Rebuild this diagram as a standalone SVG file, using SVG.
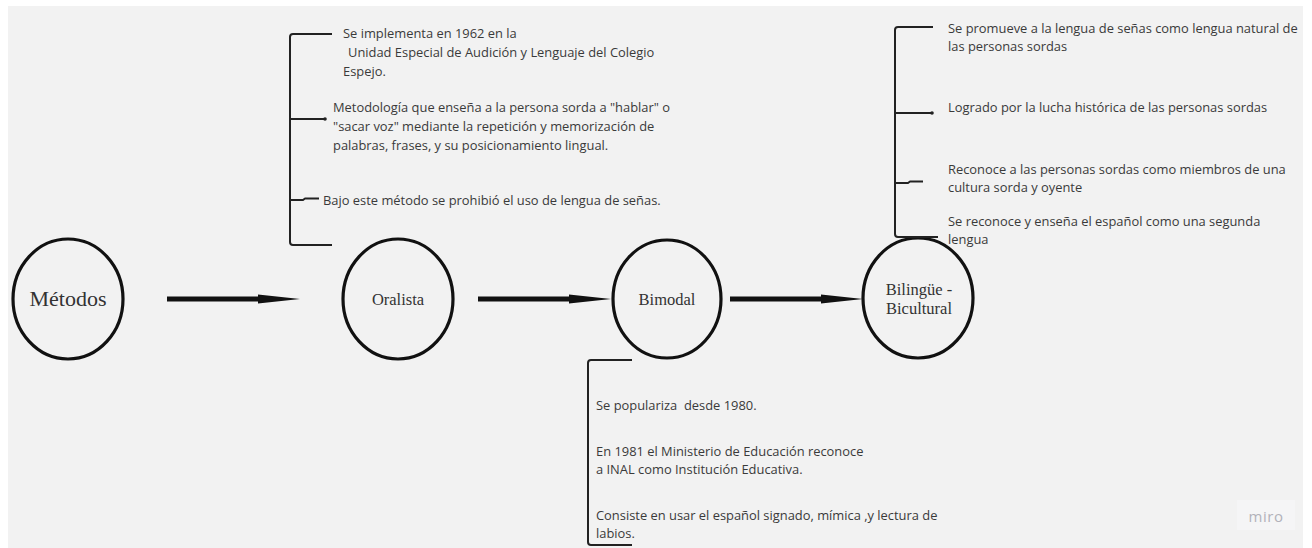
<svg xmlns="http://www.w3.org/2000/svg" width="1312" height="548" viewBox="0 0 1312 548">
<defs>
<style>
.bg{fill:#f2f2f2}
.node{fill:none;stroke:#111;stroke-width:3.2}
.lbl{font-family:"Liberation Serif",serif;fill:#333;text-anchor:middle}
.txt{font-family:"Open Sans","Noto Sans",sans-serif;font-size:12.9px;fill:#3a3a3a}
.br{fill:none;stroke:#222;stroke-width:2;stroke-linejoin:round}
.arr{stroke:#111;stroke-width:5;marker-end:url(#head)}
</style>
<marker id="head" markerUnits="userSpaceOnUse" markerWidth="46" markerHeight="14" refX="0" refY="7" orient="auto" viewBox="0 0 46 14">
<path d="M0,2.5 L42,7 L0,11.5 Z" fill="#111"/>
</marker>
</defs>
<rect x="0" y="0" width="1312" height="548" fill="#ffffff"/>
<rect class="bg" x="8" y="6" width="1295" height="542"/>

<g id="connectors">
<line class="arr" x1="167" y1="299" x2="258" y2="299"/>
<line class="arr" x1="478" y1="299" x2="569" y2="299"/>
<line class="arr" x1="730" y1="299" x2="821" y2="299"/>
</g>

<g id="metodos">
<ellipse class="node" cx="68" cy="299" rx="55" ry="60"/>
<text class="lbl" x="68" y="306" font-size="22">Métodos</text>
</g>

<g id="oralista">
<ellipse class="node" cx="398" cy="299" rx="55" ry="60"/>
<text class="lbl" x="398" y="305" font-size="16.5">Oralista</text>
</g>

<g id="bimodal">
<ellipse class="node" cx="667" cy="299" rx="54" ry="59"/>
<text class="lbl" x="667" y="305" font-size="16.5">Bimodal</text>
</g>

<g id="bilingue">
<ellipse class="node" cx="918" cy="298" rx="55" ry="60"/>
<text class="lbl" x="919" y="295" font-size="16.5">Bilingüe -</text>
<text class="lbl" x="919" y="314" font-size="16.5">Bicultural</text>
</g>

<g id="oralista-notes">
<path class="br" d="M332,34 H293 Q290,34 290,37 V242 Q290,245 293,245 H332"/>
<path class="br" d="M290,119 H325"/>
<circle cx="325" cy="119" r="1.8" fill="#222"/>
<path class="br" d="M290,200 H303 L305,198.5 H319"/>
<text class="txt" x="343" y="38">Se implementa en 1962 en la</text>
<text class="txt" x="348" y="57">Unidad Especial de Audición y Lenguaje del Colegio</text>
<text class="txt" x="343" y="76">Espejo.</text>
<text class="txt" x="333" y="112">Metodología que enseña a la persona sorda a "hablar" o</text>
<text class="txt" x="333" y="131">"sacar voz" mediante la repetición y memorización de</text>
<text class="txt" x="333" y="150">palabras, frases, y su posicionamiento lingual.</text>
<text class="txt" x="323" y="205">Bajo este método se prohibió el uso de lengua de señas.</text>
</g>

<g id="bimodal-notes">
<path class="br" d="M632,360 H591 Q588,360 588,363 V542 Q588,545 591,545 H632"/>
<text class="txt" x="596" y="410">Se populariza&#160; desde 1980.</text>
<text class="txt" x="596" y="456">En 1981 el Ministerio de Educación reconoce</text>
<text class="txt" x="596" y="474">a INAL como Institución Educativa.</text>
<text class="txt" x="596" y="520">Consiste en usar el español signado, mímica ,y lectura de</text>
<text class="txt" x="596" y="538">labios.</text>
</g>

<g id="bilingue-notes">
<path class="br" d="M933,27 H898 Q895,27 895,30 V234 Q895,237 898,237 H938"/>
<path class="br" d="M895,113 H932"/>
<circle cx="932" cy="113" r="1.8" fill="#222"/>
<path class="br" d="M895,183 H908 L910,181.5 H923"/>
<text class="txt" x="948" y="33">Se promueve a la lengua de señas como lengua natural de</text>
<text class="txt" x="948" y="51">las personas sordas</text>
<text class="txt" x="948" y="112">Logrado por la lucha histórica de las personas sordas</text>
<text class="txt" x="948" y="174">Reconoce a las personas sordas como miembros de una</text>
<text class="txt" x="948" y="192">cultura sorda y oyente</text>
<text class="txt" x="948" y="226">Se reconoce y enseña el español como una segunda</text>
<text class="txt" x="948" y="244">lengua</text>
</g>

<g id="miro">
<rect x="1237" y="500" width="58" height="30" fill="#f5f5f6"/>
<text x="1266" y="522" font-family="'Open Sans',sans-serif" font-size="15" fill="#b2b2ba" text-anchor="middle" letter-spacing="0.5">miro</text>
</g>
</svg>
